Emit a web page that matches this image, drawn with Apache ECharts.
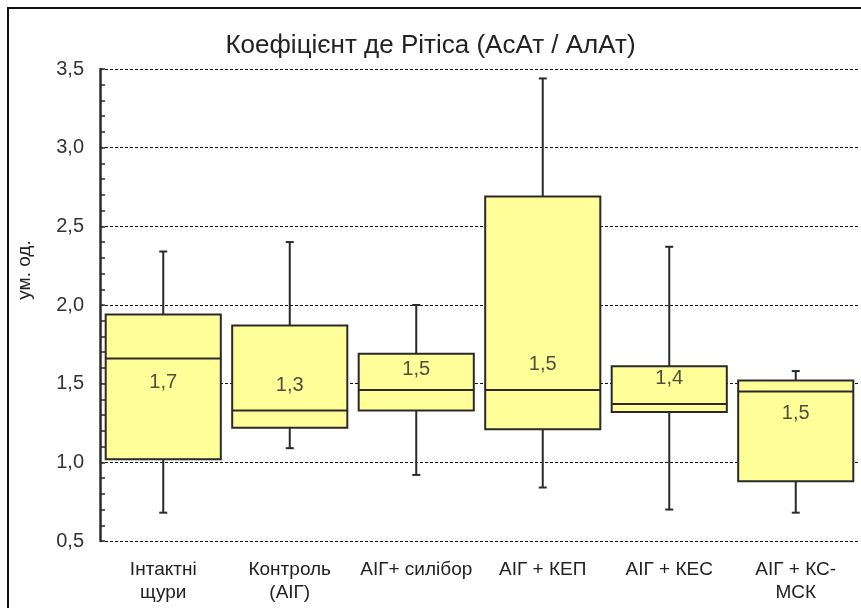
<!DOCTYPE html>
<html>
<head>
<meta charset="utf-8">
<script src="https://cdn.jsdelivr.net/npm/echarts@6/dist/echarts.min.js"></script>
<style>
  html, body { margin: 0; padding: 0; background: #fff; }
  #main { width: 861px; height: 608px; }
</style>
</head>
<body>
<div id="main"></div>
<script>
// дані
const categories = ['Інтактні\nщури', 'Контроль\n(АІГ)', 'АІГ+ силібор', 'АІГ + КЕП', 'АІГ + КЕС', 'АІГ + КС-\nМСК'];
const whiskerLow = [0.68, 1.09, 0.92, 0.84, 0.70, 0.68];
const boxLow = [1.02, 1.22, 1.33, 1.21, 1.32, 0.88];
const median = [1.66, 1.33, 1.46, 1.46, 1.37, 1.45];
const boxHigh = [1.94, 1.87, 1.69, 2.69, 1.61, 1.52];
const whiskerHigh = [2.34, 2.40, 2.00, 3.44, 2.37, 1.58];
const boxLabels = ['1,7', '1,3', '1,5', '1,5', '1,4', '1,5'];
const labelAt = [1.51, 1.49, 1.59, 1.62, 1.53, 1.31];

const font = '"Liberation Sans", Arial, sans-serif';
const ink = '#2a2a2a';

const boxData = categories.map((c, i) => [i, whiskerLow[i], boxLow[i], median[i], boxHigh[i], whiskerHigh[i]]);
const labelData = categories.map((c, i) => [i, labelAt[i]]);

// коробка з вусами
function renderBox(params, api) {
  const i = api.value(0);
  const bw = api.size([1, 0])[0] * 0.91;
  const cap = 4;
  const pt = k => api.coord([i, api.value(k)]);
  const wl = pt(1), bl = pt(2), md = pt(3), bh = pt(4), wh = pt(5);
  const x = wl[0];
  const line = { stroke: ink, lineWidth: 2 };
  return {
    type: 'group',
    children: [
      { type: 'line', shape: { x1: x, y1: bh[1], x2: x, y2: wh[1] }, style: line },
      { type: 'line', shape: { x1: x - cap, y1: wh[1], x2: x + cap, y2: wh[1] }, style: line },
      { type: 'line', shape: { x1: x, y1: bl[1], x2: x, y2: wl[1] }, style: line },
      { type: 'line', shape: { x1: x - cap, y1: wl[1], x2: x + cap, y2: wl[1] }, style: line },
      { type: 'rect', shape: { x: x - bw / 2, y: bh[1], width: bw, height: bl[1] - bh[1] },
        style: { fill: '#FFFF99', stroke: ink, lineWidth: 2 } },
      { type: 'line', shape: { x1: x - bw / 2, y1: md[1], x2: x + bw / 2, y2: md[1] }, style: line }
    ]
  };
}

const myChart = echarts.init(document.getElementById('main'));
myChart.setOption({
  backgroundColor: '#fff',
  animation: false,
  title: {
    text: 'Коефіцієнт де Рітіса (АсАт / АлАт)',
    left: 'center',
    top: 28,
    textStyle: { fontFamily: font, fontSize: 26, fontWeight: 'normal', color: '#222' }
  },
  graphic: [
    { type: 'rect', shape: { x: 8, y: 8, width: 900, height: 700 },
      style: { fill: 'none', stroke: '#111', lineWidth: 2 }, z: 10 },
    { type: 'text', x: 25, y: 270, rotation: Math.PI / 2,
      style: { text: 'ум. од.', font: '19px ' + font, fill: '#222', align: 'center', verticalAlign: 'middle' } }
  ],
  grid: { left: 100, right: 2, top: 69, bottom: 67 },
  xAxis: {
    type: 'category',
    data: categories,
    axisLine: { show: false },
    axisTick: { show: false },
    splitLine: { show: false },
    axisLabel: { margin: 17, fontFamily: font, fontSize: 19, color: '#222', lineHeight: 23, interval: 0 }
  },
  yAxis: {
    type: 'value',
    min: 0.5,
    max: 3.5,
    interval: 0.5,
    axisLine: { show: true, lineStyle: { color: ink, width: 2.5 } },
    axisTick: { show: true, inside: true, length: 5, lineStyle: { color: ink, width: 1.5 } },
    minorTick: { show: true, splitNumber: 5, length: 5, lineStyle: { color: ink, width: 1.5 } },
    splitLine: { show: true, lineStyle: { color: '#111', type: [3, 2], width: 1.2 } },
    axisLabel: {
      margin: 16, fontFamily: font, fontSize: 20, color: '#333',
      formatter: v => v.toFixed(1).replace('.', ',')
    }
  },
  series: [
    {
      type: 'custom',
      renderItem: renderBox,
      encode: { x: 0, y: [1, 2, 3, 4, 5] },
      data: boxData,
      z: 2
    },
    {
      type: 'scatter',
      symbolSize: 0,
      data: labelData,
      z: 3,
      label: {
        show: true,
        position: 'inside',
        fontFamily: font,
        fontSize: 20,
        color: '#222',
        formatter: p => boxLabels[p.dataIndex]
      }
    }
  ]
});
</script>
</body>
</html>
